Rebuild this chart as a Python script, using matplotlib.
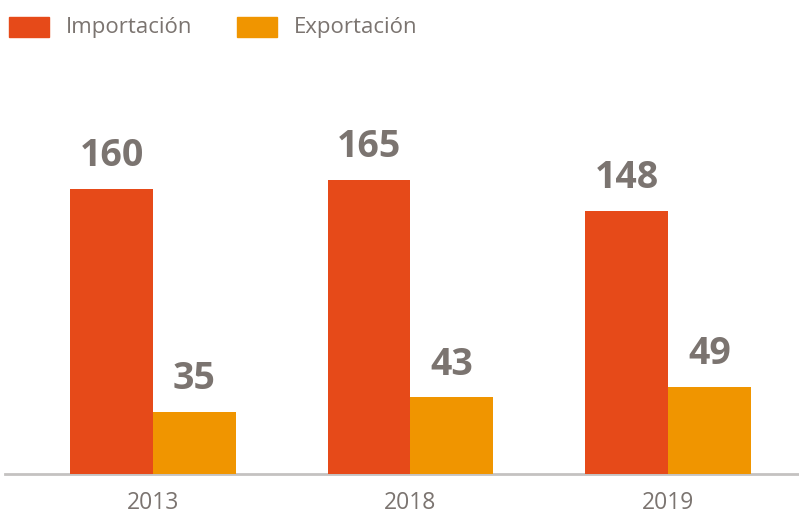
import matplotlib
matplotlib.use('Agg')
import matplotlib.pyplot as plt
from matplotlib.patches import Rectangle

# data
years = ['2013', '2018', '2019']
importacion = [160, 165, 148]
exportacion = [35, 43, 49]

c_imp = '#E64A19'
c_exp = '#F09500'
c_txt = '#7B7470'

plt.rcParams['font.family'] = ['Open Sans', 'DejaVu Sans']

fig = plt.figure(figsize=(7.99, 5.16), dpi=100)
ax = fig.add_axes([5 / 799, 1 - 474 / 516, 794 / 799, (474 - 50) / 516])

w = 0.322
x = list(range(len(years)))
ax.bar([i - w / 2 for i in x], importacion, width=w, color=c_imp, zorder=2)
ax.bar([i + w / 2 for i in x], exportacion, width=w, color=c_exp, zorder=2)

for i in x:
    ax.annotate(str(importacion[i]), (i - w / 2, importacion[i]), xytext=(0, 10),
                textcoords='offset points', ha='center', va='bottom',
                fontsize=27, fontweight='bold', color=c_txt)
    ax.annotate(str(exportacion[i]), (i + w / 2, exportacion[i]), xytext=(0, 10),
                textcoords='offset points', ha='center', va='bottom',
                fontsize=27, fontweight='bold', color=c_txt)

ax.set_xlim(-0.575, 2.509)
ax.set_ylim(0, (474 - 50) / 1.78)
ax.set_xticks(x)
ax.set_xticklabels(years, fontsize=16.5, color=c_txt)
ax.tick_params(axis='x', length=0, pad=12)
ax.set_yticks([])
for s in ['top', 'right', 'left']:
    ax.spines[s].set_visible(False)
ax.spines['bottom'].set_color('#C4C2C1')
ax.spines['bottom'].set_linewidth(2)
ax.spines['bottom'].set_zorder(1)

# legend
fig.patches.append(Rectangle((9 / 799, 1 - 37 / 516), 40 / 799, 20 / 516,
                             transform=fig.transFigure, color=c_imp))
fig.text(66 / 799, 1 - 27 / 516, 'Importación', fontsize=16, color=c_txt, va='center')
fig.patches.append(Rectangle((237 / 799, 1 - 37 / 516), 40 / 799, 20 / 516,
                             transform=fig.transFigure, color=c_exp))
fig.text(294 / 799, 1 - 27 / 516, 'Exportación', fontsize=16, color=c_txt, va='center')

fig.savefig('out.png', dpi=100)
